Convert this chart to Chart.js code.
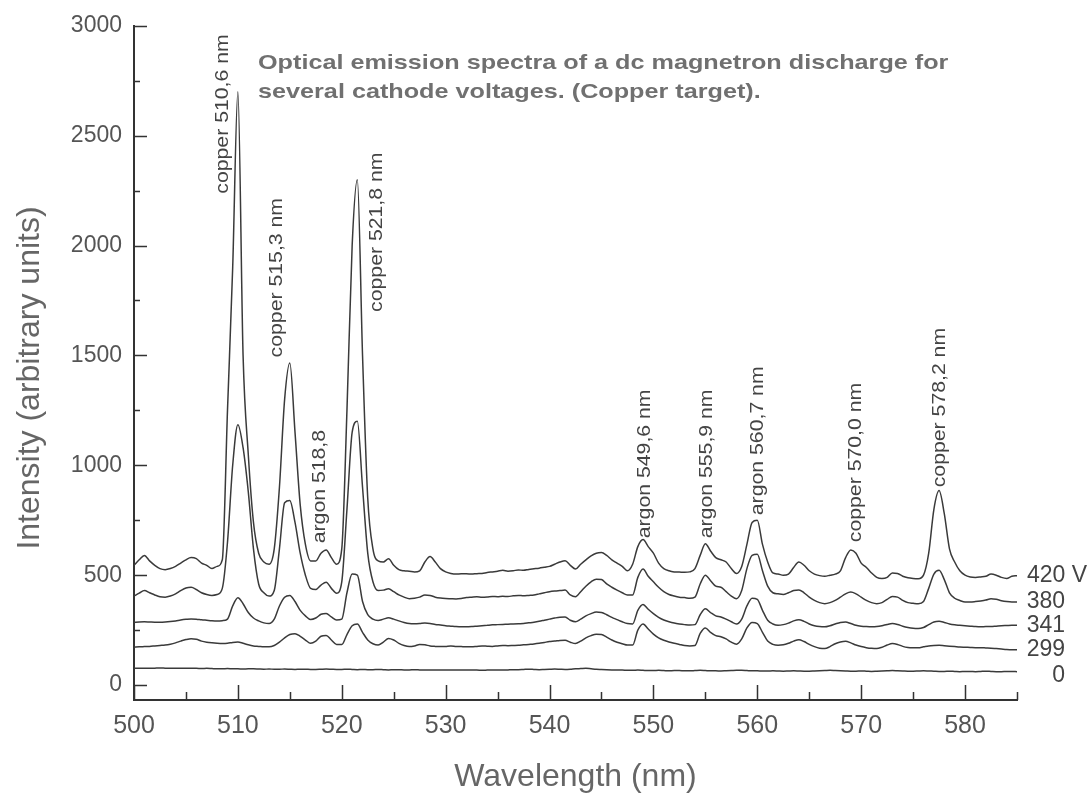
<!DOCTYPE html>
<html>
<head>
<meta charset="utf-8">
<title>Optical emission spectra - dc magnetron discharge</title>
<script src="https://cdn.jsdelivr.net/npm/chart.js@4.4.1/dist/chart.umd.min.js"></script>
<style>
    html, body { margin: 0; padding: 0; background: #ffffff; }
    #wrap { width: 1088px; height: 798px; }
</style>
</head>
<body>
<div id="wrap"><canvas id="spectraChart" width="1088" height="798"></canvas></div>
<script>
// ==================== DATA ====================

// wavelength grid (nm)
const wavelengths = [
    500, 500.5, 501, 501.5, 502, 502.5, 503, 503.5, 504, 504.5, 505, 505.5, 506, 506.5, 507, 507.5, 508, 508.5, 509, 509.5,
    510, 510.5, 511, 511.5, 512, 512.5, 513, 513.5, 514, 514.5, 515, 515.5, 516, 516.5, 517, 517.5, 518, 518.5, 519, 519.5,
    520, 520.5, 521, 521.5, 522, 522.5, 523, 523.5, 524, 524.5, 525, 525.5, 526, 526.5, 527, 527.5, 528, 528.5, 529, 529.5,
    530, 530.5, 531, 531.5, 532, 532.5, 533, 533.5, 534, 534.5, 535, 535.5, 536, 536.5, 537, 537.5, 538, 538.5, 539, 539.5,
    540, 540.5, 541, 541.5, 542, 542.5, 543, 543.5, 544, 544.5, 545, 545.5, 546, 546.5, 547, 547.5, 548, 548.5, 549, 549.5,
    550, 550.5, 551, 551.5, 552, 552.5, 553, 553.5, 554, 554.5, 555, 555.5, 556, 556.5, 557, 557.5, 558, 558.5, 559, 559.5,
    560, 560.5, 561, 561.5, 562, 562.5, 563, 563.5, 564, 564.5, 565, 565.5, 566, 566.5, 567, 567.5, 568, 568.5, 569, 569.5,
    570, 570.5, 571, 571.5, 572, 572.5, 573, 573.5, 574, 574.5, 575, 575.5, 576, 576.5, 577, 577.5, 578, 578.5, 579, 579.5,
    580, 580.5, 581, 581.5, 582, 582.5, 583, 583.5, 584, 584.5, 585
];

// intensity (arbitrary units), one array per cathode voltage
const volt420 = [
    545, 570, 590, 565, 545, 530, 525, 530, 540, 555, 570, 580, 575, 555, 545, 530, 540, 570, 1250, 1900,
    2700, 1500, 1050, 740, 600, 560, 550, 620, 900, 1300, 1465, 1150, 820, 640, 565, 565, 600, 615, 580, 550,
    620, 1250, 2000, 2300, 1500, 850, 620, 565, 560, 575, 545, 525, 520, 518, 515, 520, 560, 585, 560, 530,
    515, 508, 505, 506, 506, 505, 507, 508, 512, 515, 518, 522, 518, 520, 524, 522, 526, 529, 532, 536,
    540, 550, 560, 566, 545, 528, 550, 570, 588, 600, 603, 590, 570, 555, 540, 520, 550, 630, 662, 630,
    600, 555, 530, 520, 515, 514, 513, 515, 530, 590, 643, 610, 580, 570, 560, 530, 508, 540, 640, 740,
    750, 640, 560, 510, 505, 500, 505, 535, 560, 545, 520, 505, 498, 495, 500, 505, 520, 580, 615, 600,
    555, 535, 510, 490, 485, 490, 510, 508, 495, 488, 485, 484, 500, 600, 800, 885, 780, 620, 560, 520,
    500, 492, 490, 492, 495, 505, 500, 490, 485, 495, 498
];
const volt380 = [
    405, 418, 430, 420, 410, 402, 400, 405, 415, 430, 442, 445, 435, 420, 412, 408, 412, 440, 650, 1000,
    1185, 1080, 880, 620, 460, 420, 405, 430, 620, 830, 840, 740, 600, 500, 440, 435, 455, 468, 440, 418,
    470, 800, 1150, 1200, 900, 600, 470, 430, 432, 438, 425, 410, 400, 393, 395, 400, 410, 408, 400, 396,
    394, 393, 392, 394, 398, 400, 402, 400, 401, 403, 402, 404, 403, 406, 408, 406, 408, 410, 415, 420,
    425, 428, 430, 432, 410, 402, 425, 450, 470, 482, 480, 460, 445, 432, 420, 410, 410, 490, 528, 495,
    470, 445, 425, 412, 405, 400, 398, 395, 400, 460, 500, 475, 450, 445, 425, 405, 393, 430, 530, 590,
    595, 520, 450, 420, 415, 412, 420, 430, 433, 420, 400, 385, 375, 370, 375, 385, 400, 415, 423, 415,
    400, 385, 375, 370, 375, 390, 403, 400, 385, 375, 372, 370, 380, 440, 505, 522, 480, 420, 395, 385,
    378, 378, 380, 383, 387, 393, 390, 384, 380, 378, 378
];
const volt341 = [
    285, 287, 288, 287, 286, 286, 287, 289, 292, 296, 299, 301, 300, 297, 295, 293, 292, 293, 300, 360,
    397, 370, 330, 305, 292, 283, 280, 300, 360, 400, 408, 380, 340, 315, 298, 305, 322, 326, 310, 296,
    300, 420, 505, 500, 380, 320, 300, 294, 300, 306, 300, 292, 285, 280, 279, 280, 282, 280, 276, 273,
    270, 268, 266, 265, 265, 266, 268, 270, 272, 274, 275, 276, 277, 278, 279, 280, 283, 286, 290, 295,
    300, 305, 309, 310, 295, 288, 300, 315, 325, 332, 330, 320, 308, 298, 288, 280, 278, 340, 367, 345,
    325, 308, 296, 288, 282, 278, 275, 273, 275, 320, 347, 330, 315, 310, 300, 288, 278, 300, 360, 395,
    390, 340, 295, 278, 272, 275, 282, 292, 297, 290, 278, 270, 266, 265, 270, 278, 285, 287, 280, 272,
    268, 266, 265, 266, 270, 276, 280, 276, 268, 262, 258, 257, 262, 275, 287, 290, 285, 278, 274, 272,
    270, 268, 266, 265, 266, 266, 268, 270, 271, 272, 272
];
const volt299 = [
    172, 174, 175, 176, 178, 180, 182, 186, 192, 200, 207, 211, 208, 200, 195, 192, 190, 189, 190, 194,
    196, 190, 183, 178, 176, 174, 174, 180, 195, 215, 230, 234, 222, 205, 190, 200, 222, 226, 205, 185,
    185, 230, 270, 278, 240, 205, 188, 182, 195, 212, 205, 190, 180, 175, 178, 185, 183, 178, 176, 175,
    176, 178, 176, 175, 174, 174, 176, 178, 177, 176, 178, 180, 179, 180, 181, 183, 185, 187, 190, 194,
    198, 200, 203, 204, 195, 189, 200, 215, 225, 231, 230, 218, 205, 195, 188, 182, 182, 250, 278, 255,
    232, 215, 204, 196, 190, 185, 180, 178, 180, 235, 260, 240, 225, 220, 210, 195, 186, 210, 260, 285,
    280, 240, 200, 185, 181, 183, 190, 200, 206, 198, 185, 175, 168, 166, 175, 188, 196, 199, 192, 182,
    175, 170, 167, 166, 172, 182, 189, 185, 176, 171, 170, 170, 174, 178, 180, 181, 179, 177, 175, 173,
    172, 171, 170, 170, 169, 168, 166, 164, 162, 161, 161
];
const volt0 = [
    76, 77, 77, 76, 77, 78, 77, 76, 76, 77, 77, 76, 76, 75, 76, 75, 74, 74, 75, 74,
    74, 73, 74, 74, 73, 72, 73, 72, 72, 73, 72, 71, 72, 72, 71, 71, 72, 73, 72, 71,
    71, 72, 71, 70, 71, 70, 70, 71, 70, 69, 70, 70, 69, 69, 70, 69, 68, 69, 69, 68,
    68, 69, 68, 68, 69, 68, 68, 67, 68, 69, 68, 68, 69, 70, 70, 71, 72, 71, 70, 71,
    72, 73, 72, 71, 72, 74, 75, 76, 74, 72, 71, 70, 69, 68, 68, 67, 67, 68, 67, 66,
    66, 67, 66, 65, 66, 66, 65, 65, 66, 67, 66, 65, 65, 64, 65, 66, 67, 67, 66, 65,
    65, 64, 64, 65, 64, 63, 64, 65, 64, 63, 63, 64, 65, 66, 67, 66, 65, 64, 63, 63,
    64, 63, 62, 63, 64, 65, 66, 65, 64, 63, 63, 64, 65, 64, 63, 62, 62, 63, 62, 61,
    62, 62, 61, 62, 63, 62, 61, 61, 62, 62, 61
];

const seriesNames = ['420 V', '380', '341', '299', '0'];
const seriesValues = [volt420, volt380, volt341, volt299, volt0];

// axis ticks
const xTickValues = [500, 510, 520, 530, 540, 550, 560, 570, 580];
const xMinorTicks = [505, 515, 525, 535, 545, 555, 565, 575, 585];
const yTickValues = [0, 500, 1000, 1500, 2000, 2500, 3000];
const yMinorTicks = [250, 750, 1250, 1750, 2250, 2750];

// emission line names
const lineNames = [
    'copper 510,6 nm', 'copper 515,3 nm', 'argon 518,8', 'copper 521,8 nm',
    'argon 549,6 nm', 'argon 555,9 nm', 'argon 560,7 nm', 'copper 570,0 nm', 'copper 578,2 nm'
];

const chartTitle = [
    'Optical emission spectra of a dc magnetron discharge for',
    'several cathode voltages. (Copper target).'
];

// ==================== STYLE ====================

const FONT = '"Liberation Sans", Arial, Helvetica, sans-serif';
const INK = '#333333';

// where each rotated line name sits: [wavelength, intensity at the start of the text]
const lineNameAnchors = [
    [508.6, 2236], [513.8, 1491], [517.9, 645], [523.4, 1698],
    [549.2, 668], [555.2, 668], [560.1, 773], [569.5, 650], [577.6, 900]
];

// ==================== DECORATION PLUGIN ====================

const spectraDecor = {
    id: 'spectraDecor',
    afterDraw(chart) {
        const { ctx, chartArea, scales } = chart;
        const x = scales.x;
        const y = scales.y;
        ctx.save();

        // inward tick marks
        ctx.strokeStyle = INK;
        ctx.lineWidth = 1.5;
        ctx.beginPath();
        yTickValues.forEach(v => {
            const py = Math.round(y.getPixelForValue(v)) + 0.5;
            ctx.moveTo(chartArea.left, py);
            ctx.lineTo(chartArea.left + 13, py);
        });
        yMinorTicks.forEach(v => {
            const py = Math.round(y.getPixelForValue(v)) + 0.5;
            ctx.moveTo(chartArea.left, py);
            ctx.lineTo(chartArea.left + 6, py);
        });
        xTickValues.forEach(v => {
            const px = Math.round(x.getPixelForValue(v)) + 0.5;
            ctx.moveTo(px, chartArea.bottom);
            ctx.lineTo(px, chartArea.bottom - 15);
        });
        xMinorTicks.forEach(v => {
            const px = Math.round(x.getPixelForValue(v)) + 0.5;
            ctx.moveTo(px, chartArea.bottom);
            ctx.lineTo(px, chartArea.bottom - 8);
        });
        ctx.stroke();

        // title (the scanned original is set wide)
        ctx.fillStyle = '#707070';
        ctx.font = 'bold 21px ' + FONT;
        ctx.textAlign = 'left';
        ctx.textBaseline = 'alphabetic';
        ctx.save();
        ctx.translate(258, 0);
        ctx.scale(1.2, 1);
        ctx.fillText(chartTitle[0], 0, 69);
        ctx.fillText(chartTitle[1], 0, 98);
        ctx.restore();

        // rotated emission line names
        ctx.fillStyle = '#444444';
        ctx.font = '18px ' + FONT;
        ctx.textBaseline = 'middle';
        lineNames.forEach((name, i) => {
            const [nm, val] = lineNameAnchors[i];
            ctx.save();
            ctx.translate(x.getPixelForValue(nm), y.getPixelForValue(val));
            ctx.rotate(-Math.PI / 2);
            ctx.scale(1.18, 1);
            ctx.fillText(name, 0, 0);
            ctx.restore();
        });

        // voltage labels at the end of each curve
        ctx.fillStyle = '#444444';
        ctx.font = '23px ' + FONT;
        seriesNames.forEach((name, i) => {
            const vals = seriesValues[i];
            const py = y.getPixelForValue(vals[vals.length - 1]);
            if (i === 0) {
                ctx.textAlign = 'left';
                ctx.fillText(name, chartArea.right + 10, py);
            } else {
                ctx.textAlign = 'right';
                ctx.fillText(name, chartArea.right + 48, py + (i === 4 ? 4 : 0));
            }
        });

        // axis titles
        ctx.fillStyle = '#666666';
        ctx.font = '32px ' + FONT;
        ctx.textAlign = 'center';
        ctx.fillText('Wavelength (nm)', (chartArea.left + chartArea.right) / 2, 777);
        ctx.save();
        ctx.translate(30, 378);
        ctx.rotate(-Math.PI / 2);
        ctx.fillText('Intensity (arbitrary units)', 0, 0);
        ctx.restore();

        ctx.restore();
    }
};

// ==================== CHART ====================

function createSpectraChart() {
    const ctx = document.getElementById('spectraChart');

    const datasets = seriesValues.map((vals, i) => ({
        label: seriesNames[i],
        data: wavelengths.map((w, j) => ({ x: w, y: vals[j] })),
        borderColor: '#3a3a3a',
        borderWidth: 1.5,
        pointRadius: 0,
        cubicInterpolationMode: 'monotone',
        fill: false
    }));

    return new Chart(ctx, {
        type: 'line',
        data: { datasets: datasets },
        options: {
            responsive: false,
            animation: false,
            devicePixelRatio: 1,
            layout: { padding: { left: 0, right: 71, top: 25, bottom: 0 } },
            plugins: {
                legend: { display: false },
                tooltip: { enabled: false }
            },
            scales: {
                x: {
                    type: 'linear',
                    min: 500,
                    max: 585,
                    afterBuildTicks: scale => {
                        scale.ticks = xTickValues.map(v => ({ value: v }));
                    },
                    afterFit: scale => { scale.height = 98; },
                    grid: { display: false, drawTicks: false },
                    border: { display: true, color: INK, width: 2 },
                    ticks: {
                        color: '#555555',
                        font: { family: FONT, size: 25 },
                        padding: 11,
                        maxRotation: 0,
                        autoSkip: false,
                        callback: value => String(value)
                    }
                },
                y: {
                    min: -68,
                    max: 3000,
                    afterBuildTicks: scale => {
                        scale.ticks = yTickValues.map(v => ({ value: v }));
                    },
                    afterFit: scale => { scale.width = 134; },
                    grid: { display: false, drawTicks: false },
                    border: { display: true, color: INK, width: 2 },
                    ticks: {
                        color: '#555555',
                        font: { family: FONT, size: 23 },
                        padding: 12,
                        callback: value => String(value)
                    }
                }
            }
        },
        plugins: [spectraDecor]
    });
}

createSpectraChart();
</script>
</body>
</html>
